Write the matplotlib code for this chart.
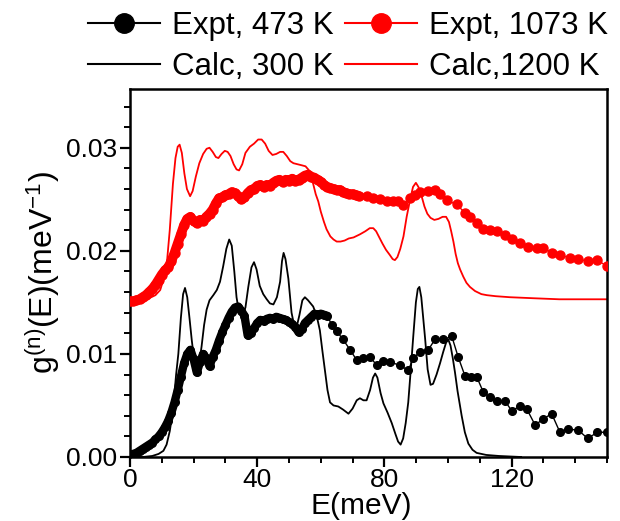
import matplotlib
matplotlib.use("Agg")
import matplotlib.pyplot as plt
from matplotlib.lines import Line2D
from matplotlib.ticker import MultipleLocator

plt.rcParams['font.family'] = ['Liberation Sans', 'DejaVu Sans']
plt.rcParams['mathtext.fontset'] = 'custom'
plt.rcParams['mathtext.rm'] = 'Liberation Sans'
plt.rcParams['mathtext.it'] = 'Liberation Sans'

# ---------------- data ----------------
# Expt, 1073 K (red symbols)
red_expt_E = [0, 1, 2, 3, 4, 5, 6, 7, 8, 9, 10, 11, 12, 13, 14, 15, 16, 17, 18, 19,
              20, 21, 22, 23, 24, 25, 26, 27, 28, 29, 30, 31, 32, 33, 34, 35, 36, 37, 38, 39,
              40, 41, 42, 43, 44, 45, 46, 47, 48, 49, 50, 51, 52, 53, 54, 55, 56, 57, 58, 59,
              60, 61, 62, 63, 64, 65, 66, 67, 68, 69, 70, 71, 72,
              74.4, 76.5, 78.6, 80.7, 82.8, 84.4, 86, 88.1, 89.6, 91.2, 93.8, 95.9, 97.5, 99.6,
              102.7, 105.3, 106.9, 109, 111.1, 113.2, 115.3, 117.9, 120, 122.6, 125.3, 127.9,
              130, 132.6, 135.2, 138.4, 141, 143.9, 147, 150]
red_expt_g = [0.0151, 0.0151, 0.0152, 0.0153, 0.0155, 0.0157, 0.0160, 0.0163, 0.0167, 0.0172,
              0.0177, 0.0181, 0.0184, 0.0190, 0.0198, 0.0207, 0.0216, 0.0225, 0.0231, 0.0233,
              0.0229, 0.0227, 0.0230, 0.0229, 0.0233, 0.0236, 0.0240, 0.0246, 0.0251, 0.0252,
              0.0254, 0.0255, 0.0257, 0.0256, 0.0253, 0.0250, 0.0252, 0.0256, 0.0259, 0.0260,
              0.0263, 0.0264, 0.0262, 0.0264, 0.0263, 0.0266, 0.0268, 0.0269, 0.0267, 0.0269,
              0.0268, 0.0270, 0.0268, 0.0269, 0.0271, 0.0273, 0.0274, 0.0272, 0.0271, 0.0269,
              0.0267, 0.0264, 0.0262, 0.0261, 0.0260, 0.0259, 0.0259, 0.0257, 0.0256, 0.0255,
              0.0255, 0.0254, 0.0253,
              0.0253, 0.0251, 0.0250, 0.0248, 0.0248, 0.0248, 0.0244, 0.0251, 0.0254, 0.0257,
              0.0258, 0.0259, 0.0255, 0.0249, 0.0245, 0.0237, 0.0233, 0.0227, 0.0221, 0.0220,
              0.0219, 0.0215, 0.0211, 0.0208, 0.0204, 0.0203, 0.0203, 0.0198, 0.0196, 0.0193,
              0.0192, 0.0190, 0.0191, 0.0185]

# Expt, 473 K (black symbols)
blk_expt_E = [0, 1, 2, 3, 4, 5, 6, 7, 8, 9, 10, 11, 12, 13, 14, 15, 16, 17, 18, 19,
              20, 21, 22, 23, 24, 25, 26, 27, 28, 29, 30, 31, 32, 33, 34, 35, 36, 37, 38, 39,
              40, 41, 42, 43, 44, 45, 46, 47, 48, 49, 50, 51, 52, 53, 54, 55, 56, 57, 58, 59,
              60, 61, 62, 63.5, 65, 67, 69.2, 71.3, 73.4, 75.5, 77.6, 79.7, 81.8, 84.9, 87.5,
              89.1, 91.2, 93.8, 95.9, 98.5, 101.2, 103.2, 105.3, 107.1, 109, 111.1, 113.2,
              115.3, 118, 120, 122.6, 124.7, 127.4, 130, 132.6, 135.2, 137.8, 141, 143.9, 147, 150]
blk_expt_g = [0.0002, 0.0003, 0.0004, 0.0006, 0.0008, 0.0010, 0.0012, 0.0014, 0.0017, 0.0020,
              0.0024, 0.0029, 0.0035, 0.0043, 0.0053, 0.0065, 0.0078, 0.0091, 0.0100, 0.0104,
              0.0095, 0.0082, 0.0092, 0.0100, 0.0096, 0.0088, 0.0097, 0.0104, 0.0113, 0.0121,
              0.0128, 0.0135, 0.0141, 0.0145, 0.0146, 0.0142, 0.0137, 0.0118, 0.0120, 0.0125,
              0.0130, 0.0133, 0.0132, 0.0134, 0.0135, 0.0134, 0.0136, 0.0135, 0.0134, 0.0133,
              0.0131, 0.0129, 0.0126, 0.0121, 0.0124, 0.0130, 0.0133, 0.0136, 0.0139, 0.0138,
              0.0139, 0.0138, 0.0137, 0.0128, 0.0122, 0.0114, 0.0104, 0.0094, 0.0096, 0.0097,
              0.0089, 0.0093, 0.0092, 0.0089, 0.0084, 0.0096, 0.0102, 0.0104, 0.0114, 0.0114,
              0.0117, 0.0097, 0.0079, 0.0078, 0.0078, 0.0063, 0.0058, 0.0054, 0.0054, 0.0045,
              0.0049, 0.0047, 0.0031, 0.0037, 0.0042, 0.0024, 0.0027, 0.0026, 0.0018, 0.0024, 0.0024]

# Calc, 300 K (black line)
blk_calc_E = [0, 4, 7, 9, 10.5, 11.5, 12.5, 13.5, 14.5, 15.2, 16, 16.7, 17.3, 18, 18.7, 19.4,
              20.2, 21, 21.8, 22.5, 23.3, 24.1, 25, 26.2, 27.3, 28.3, 29.3, 30.3, 31.2, 32,
              32.8, 33.5, 34.3, 35.3, 36.3, 37.2, 38.2, 39, 39.8, 40.8, 41.9, 43, 44, 45.1,
              46.2, 47.2, 47.8, 48.3, 48.9, 49.8, 50.8, 51.6, 52.4, 53.3, 54.2, 55, 56, 57.6,
              58.7, 59.7, 60.5, 61.3, 62.1, 62.9, 64, 65.5, 67, 68.7, 70, 71.3, 72.3, 73.4,
              74.4, 75.5, 76.4, 77.1, 77.8, 78.8, 79.7, 81, 82.3, 83.5, 84.3, 85.1, 85.9, 86.7,
              87.5, 88.3, 89.1, 89.9, 90.5, 91, 91.6, 92.2, 92.8, 93.6, 94.5, 95.3, 96.4, 97.5,
              98.5, 99.4, 100.1, 100.8, 101.5, 102.2, 103, 104.3, 105.3, 106.4, 107.7, 109,
              112, 116, 123]
blk_calc_g = [0.0, 0.0, 0.0001, 0.0003, 0.0006, 0.0012, 0.0025, 0.0045, 0.0080, 0.0100,
              0.0135, 0.0158, 0.0164, 0.0155, 0.0135, 0.0114, 0.0093, 0.0084, 0.0092, 0.0107,
              0.0128, 0.0143, 0.0152, 0.0157, 0.0162, 0.0170, 0.0185, 0.0202, 0.0211, 0.0205,
              0.0180, 0.0155, 0.0140, 0.0137, 0.0145, 0.0165, 0.0184, 0.0189, 0.0182, 0.0166,
              0.0158, 0.0153, 0.0149, 0.0148, 0.0155, 0.0170, 0.0190, 0.0198, 0.0192, 0.0173,
              0.0140, 0.0128, 0.0126, 0.0138, 0.0152, 0.0155, 0.0152, 0.0146, 0.0137, 0.0123,
              0.0103, 0.0084, 0.0065, 0.0053, 0.0050, 0.0049, 0.0046, 0.0042, 0.0047, 0.0055,
              0.0057, 0.0055, 0.0055, 0.0065, 0.0077, 0.0081, 0.0077, 0.0062, 0.0052, 0.0043,
              0.0033, 0.0022, 0.0015, 0.0012, 0.0018, 0.0033, 0.0053, 0.0085, 0.0118, 0.0150,
              0.0163, 0.0165, 0.0155, 0.0135, 0.0115, 0.0085, 0.0070, 0.0071, 0.0080, 0.0091,
              0.0102, 0.0111, 0.0114, 0.0108, 0.0096, 0.0082, 0.0064, 0.0040, 0.0024, 0.0013,
              0.0007, 0.0004, 0.0002, 0.0001, 0.0]

# Calc, 1200 K (red line)
red_calc_E = [0, 3, 6, 8, 9.5, 10.5, 11.5, 12.5, 13.5, 14.3, 15, 15.6, 16.3, 17.1, 17.9, 18.9,
              19.7, 20.7, 21.8, 23, 24.1, 25, 26, 27, 27.8, 28.8, 29.8, 30.7, 31.6, 32.6,
              33.5, 34.3, 35.3, 36.3, 37.7, 39, 40.3, 41.4, 42.5, 43.6, 44.8, 46, 47.2, 48.2,
              49.3, 50.4, 51.4, 52.7, 54, 55.2, 56.6, 57.6, 58.4, 59.2, 60, 61, 61.8, 63, 64,
              65, 66.2, 67.5, 68.8, 70.3, 72.3, 74, 75.4, 76.5, 77.4, 78.4, 79.4, 80.5, 81.7,
              82.6, 83.3, 84.1, 85, 86, 87, 88.1, 89, 89.9, 90.7, 91.7, 92.6, 93.5, 94.5, 95.7,
              97, 98.3, 99.4, 100.3, 101, 101.7, 102.4, 103.1, 103.8, 104.8, 105.8, 106.9,
              108.5, 110.5, 112.2, 115, 119.5, 127, 135, 150]
red_calc_g = [0.0152, 0.0152, 0.0154, 0.0157, 0.0162, 0.0172, 0.0185, 0.0220, 0.0265, 0.0290,
              0.0301, 0.0303, 0.0295, 0.0275, 0.0260, 0.0253, 0.0258, 0.0272, 0.0285, 0.0294,
              0.0299, 0.0300, 0.0296, 0.0291, 0.0290, 0.0294, 0.0297, 0.0296, 0.0292, 0.0284,
              0.0279, 0.0278, 0.0284, 0.0295, 0.0301, 0.0304, 0.0308, 0.0308, 0.0304, 0.0297,
              0.0293, 0.0294, 0.0296, 0.0296, 0.0292, 0.0287, 0.0285, 0.0284, 0.0283, 0.0282,
              0.0277, 0.0265, 0.0255, 0.0248, 0.0238, 0.0228, 0.0221, 0.0214, 0.0211, 0.0209,
              0.0209, 0.0210, 0.0212, 0.0213, 0.0216, 0.0219, 0.0222, 0.0222, 0.0219, 0.0213,
              0.0207, 0.0201, 0.0196, 0.0192, 0.0191, 0.0194, 0.0202, 0.0214, 0.0233, 0.0250,
              0.0262, 0.0266, 0.0262, 0.0253, 0.0243, 0.0236, 0.0232, 0.0230, 0.0231, 0.0233,
              0.0233, 0.0228, 0.0219, 0.0209, 0.0197, 0.0188, 0.0182, 0.0175, 0.0169, 0.0165,
              0.0161, 0.0158, 0.0157, 0.0156, 0.0155, 0.0154, 0.0153, 0.0153]

labels = ["Expt, 473 K", "Calc, 300 K", "Expt, 1073 K", "Calc,1200 K"]

RED = '#ff0000'

# ---------------- figure ----------------
fig = plt.figure(figsize=(6.2, 5.21), dpi=100)
ax = fig.add_axes([130/620, 1-457/521, (607-130)/620, (457-89)/521])

ax.plot(red_calc_E, red_calc_g, color=RED, lw=1.3, zorder=2)
ax.plot(blk_calc_E, blk_calc_g, color='black', lw=1.3, zorder=2)

# dense (overlapping) part of the experimental curves drawn as a thick band
n_red_dense = red_expt_E.index(72) + 1
n_blk_dense = blk_expt_E.index(62) + 1
ax.plot(red_expt_E[:n_red_dense], red_expt_g[:n_red_dense], color=RED, lw=7,
        solid_capstyle='round', solid_joinstyle='round', zorder=3)
ax.plot(blk_expt_E[:n_blk_dense], blk_expt_g[:n_blk_dense], color='black', lw=6,
        solid_capstyle='round', solid_joinstyle='round', zorder=3)

ax.plot(red_expt_E, red_expt_g, color=RED, lw=1.0, marker='o', ms=6.5,
        mec=RED, mfc=RED, zorder=3)
ax.plot(blk_expt_E, blk_expt_g, color='black', lw=1.0, marker='o', ms=5.5,
        mec='black', mfc='black', zorder=3)

ax.set_xlim(0, 150)
ax.set_ylim(0, 0.0357)
ax.xaxis.set_major_locator(MultipleLocator(40))
ax.xaxis.set_minor_locator(MultipleLocator(10))
ax.yaxis.set_major_locator(MultipleLocator(0.01))
ax.yaxis.set_minor_locator(MultipleLocator(0.002))
ax.yaxis.set_major_formatter(matplotlib.ticker.FormatStrFormatter('%.2f'))

for s in ax.spines.values():
    s.set_linewidth(1.8)
ax.tick_params(which='major', direction='out', length=7, width=1.6, labelsize=19,
               top=False, right=False, pad=2)
ax.tick_params(axis='x', which='major', pad=1)
ax.tick_params(which='minor', direction='out', length=4, width=1.4, top=False, right=False)

ax.set_xlabel("E(meV)", fontsize=21.5, labelpad=0)
ax.xaxis.label.set_x(0.485)
ax.set_ylabel(r"g$^{(\mathrm{n})}$(E)(meV$^{\mathrm{-1}}$)", fontsize=23, labelpad=3)

handles = [
    Line2D([], [], color='black', lw=1.5, marker='o', ms=14),
    Line2D([], [], color='black', lw=1.5),
    Line2D([], [], color=RED, lw=1.5, marker='o', ms=14),
    Line2D([], [], color=RED, lw=1.5),
]
fig.legend(handles, labels, ncol=2, loc='upper left', bbox_to_anchor=(88/620, 1-11/521),
           frameon=False, fontsize=22.5, handlelength=2.3, handletextpad=0.4,
           columnspacing=0.35, labelspacing=0.36, borderpad=0, borderaxespad=0)

fig.savefig("out.png", dpi=100)
